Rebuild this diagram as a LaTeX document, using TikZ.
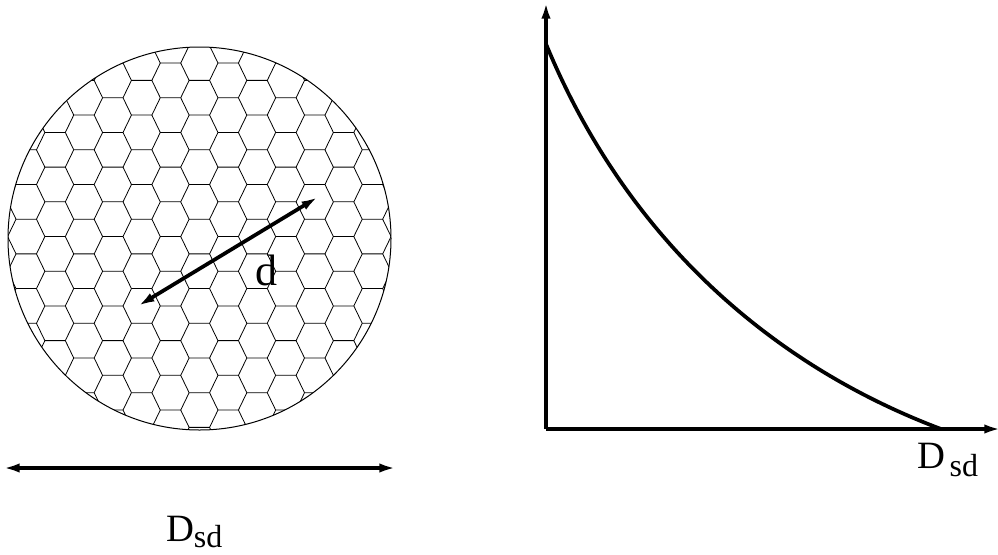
\documentclass[tikz,border=0pt]{standalone}
\usepackage{fontspec}
\setmainfont{Liberation Serif}
\usetikzlibrary{arrows.meta,positioning}

\newcommand{\dsdlabel}[2]{\fontsize{29}{29}\selectfont D\hspace{#1}\raisebox{#2}{\fontsize{24}{24}\selectfont sd}}

\begin{document}
\begin{tikzpicture}[
  x=0.75pt, y=-0.75pt,
  hexline/.style={line width=0.6pt, black, line join=round},
  rim/.style={line width=0.75pt, black},
  arrow/.style={{Latex[length=12.5pt, width=7pt]}-{Latex[length=12.5pt, width=7pt]}, line width=2.8pt},
  axisline/.style={-{Latex[length=12.5pt, width=7pt]}, line width=2.6pt},
  curveline/.style={line width=2.8pt},
  tag/.style={anchor=base west, inner sep=0pt, outer sep=0pt}
]
\useasboundingbox (0,0) rectangle (998,554);

% honeycomb disk
\begin{scope}
  \clip (199.5,238.5) circle [radius=191.5];
  \foreach \row in {0,...,25} {
    \foreach \col in {-4,...,4} {
      \pgfmathsetmacro{\cx}{170.5-28.85*mod(\row,2)+57.7*\col}
      \pgfmathsetmacro{\cy}{28.3+17.35*\row}
      \draw[hexline] (\cx-18.6,\cy+17.35) -- (\cx-10.2,\cy) -- (\cx+10.2,\cy) -- (\cx+18.6,\cy+17.35);
    }
  }
\end{scope}
\node[circle, rim, draw, minimum size=287.25pt, inner sep=0pt] (disk) at (199.5,238.5) {};

% diameter arrows
\coordinate (dfrom) at (138,306);
\coordinate (dto) at (318,197);
\draw[arrow] (dfrom) -- (dto);
\node[tag, font=\fontsize{33}{33}\selectfont] (dlabel) at (255,285) {d};

\coordinate (widthl) at (3,468);
\coordinate (widthr) at (396,468);
\draw[arrow] (widthl) -- (widthr);
\node[tag] (widthlabel) at (166,541) {\dsdlabel{0pt}{-4.5pt}};

% plot
\coordinate (origin) at (546,429);
\coordinate (ytop) at (546,2);
\coordinate (xend) at (1001,429);
\coordinate (cstart) at (546,44);
\coordinate (cend) at (941,429);
\draw[axisline] (origin) -- (ytop);
\draw[axisline] (origin) -- (xend);
\draw[curveline] (cstart) .. controls (626,238) and (771,365) .. (cend);
\node[tag] (xlabel) at (917,468) {\dsdlabel{3.5pt}{-6.5pt}};
\end{tikzpicture}
\end{document}
